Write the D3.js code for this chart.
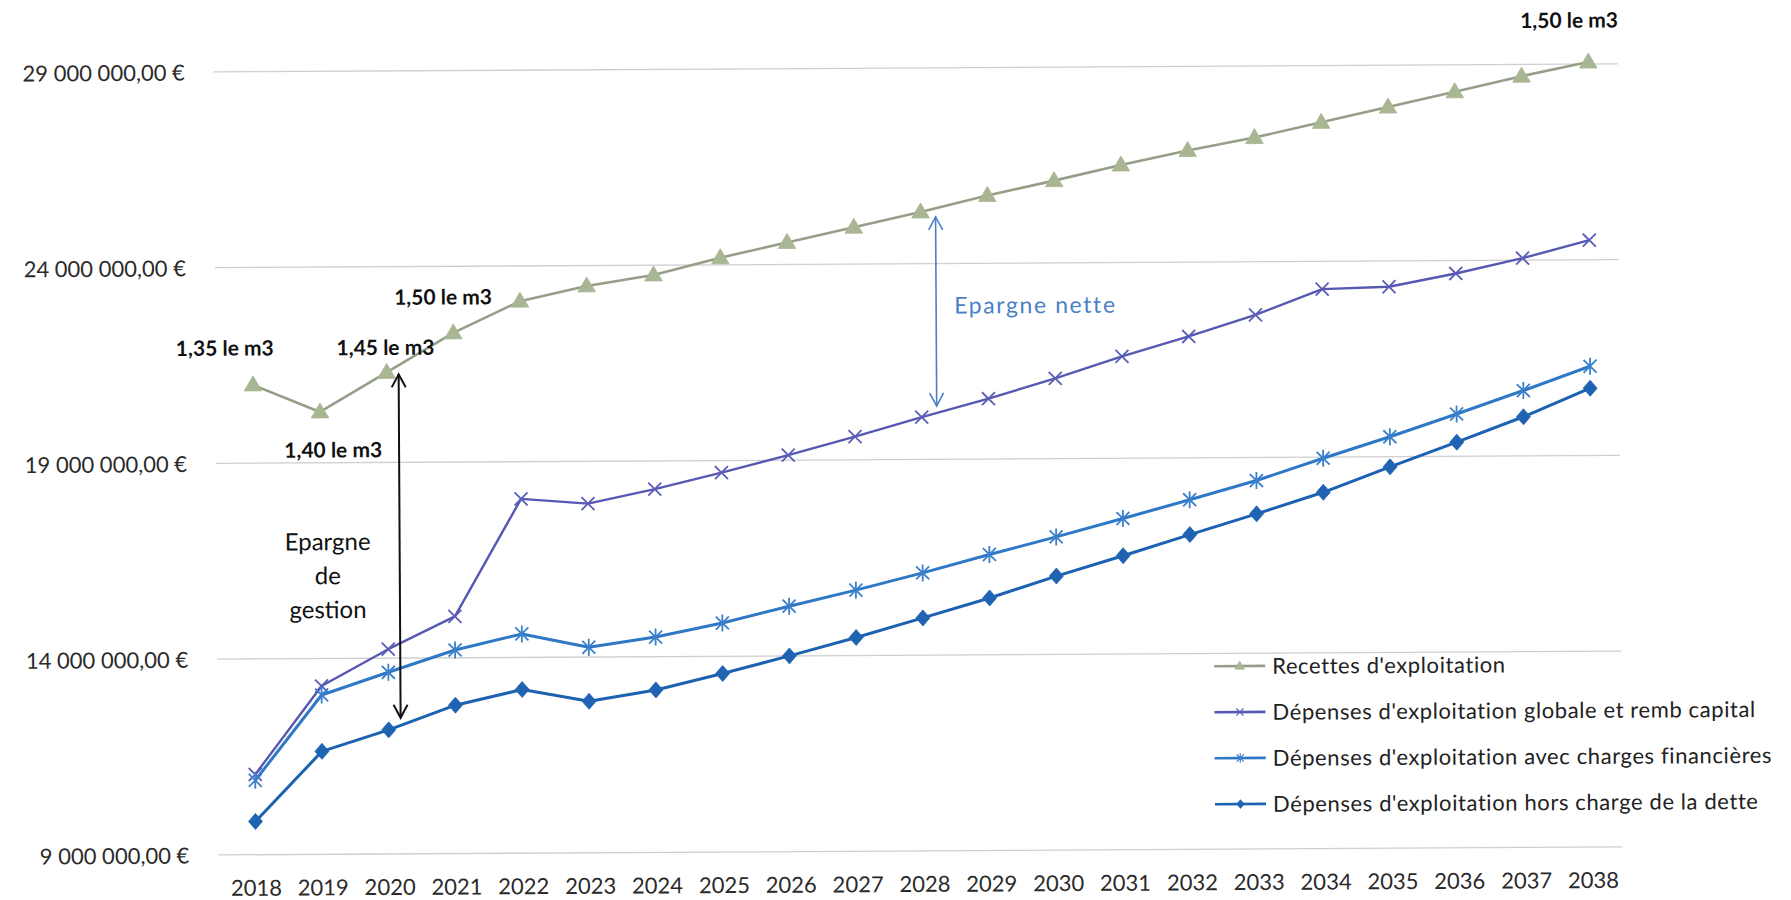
<!DOCTYPE html>
<html>
<head>
<meta charset="utf-8">
<title>Recettes et dépenses d'exploitation 2018-2038</title>
<script src="https://cdn.jsdelivr.net/npm/d3@7"></script>
<style>
  html, body { margin: 0; padding: 0; background: #ffffff; }
  svg { display: block; font-family: Lato, "Open Sans", "Liberation Sans", sans-serif; }
</style>
</head>
<body>
<svg id="chart" width="1791" height="900"></svg>
<script>
// ---- Data -----------------------------------------------------------------
const years = [2018, 2019, 2020, 2021, 2022, 2023, 2024, 2025, 2026, 2027, 2028,
               2029, 2030, 2031, 2032, 2033, 2034, 2035, 2036, 2037, 2038];

const recettes = [21000000, 20300000, 21300000, 22300000, 23100000, 23480000, 23750000,
                  24180000, 24560000, 24940000, 25320000, 25730000, 26100000, 26490000,
                  26850000, 27170000, 27550000, 27930000, 28310000, 28700000, 29050000];

const depGlobale = [11050000, 13300000, 14230000, 15060000, 18050000, 17920000, 18280000,
                    18690000, 19130000, 19590000, 20080000, 20540000, 21050000, 21600000,
                    22100000, 22640000, 23290000, 23340000, 23670000, 24050000, 24500000];

const depFinancieres = [10900000, 13070000, 13640000, 14200000, 14600000, 14250000, 14500000,
                        14850000, 15270000, 15670000, 16100000, 16560000, 17000000, 17460000,
                        17930000, 18410000, 18970000, 19510000, 20080000, 20670000, 21280000];

const depHorsDette = [9850000, 11630000, 12170000, 12790000, 13180000, 12870000, 13150000,
                      13560000, 14000000, 14460000, 14950000, 15450000, 16000000, 16510000,
                      17040000, 17560000, 18100000, 18740000, 19360000, 20000000, 20720000];

const seriesNames = [
  "Recettes d'exploitation",
  "Dépenses d'exploitation globale et remb capital",
  "Dépenses d'exploitation avec charges financières",
  "Dépenses d'exploitation hors charge de la dette"
];

const yTicks = [9000000, 14000000, 19000000, 24000000, 29000000];

// water price per m3 written next to the revenue points
const priceYears = [2018, 2019, 2020, 2021, 2038];
const priceTexts = ["1,35 le m3", "1,40 le m3", "1,45 le m3", "1,50 le m3", "1,50 le m3"];

const labelEpargneNette = "Epargne nette";
const labelEpargneGestion = ["Epargne", "de", "gestion"];

// ---- Layout ---------------------------------------------------------------
const plot = { left: 220, right: 1624, top: 68, bottom: 851 };

const svg = d3.select("#chart");
// the whole sheet sits very slightly rotated
const root = svg.append("g").attr("transform", "rotate(-0.33, 900, 460)");

const x = d3.scalePoint().domain(years).range([plot.left, plot.right]).padding(0.5);
const y = d3.scaleLinear().domain([9000000, 29000000]).range([plot.bottom, plot.top]);

const fr = d3.formatLocale({ decimal: ",", thousands: " ", grouping: [3], currency: ["", " €"] });
const euro = fr.format("$,.2f");

// ---- Grid + axes ----------------------------------------------------------
const gridG = root.append("g");
gridG.selectAll("line").data(yTicks).join("line")
  .attr("x1", plot.left - 4).attr("x2", plot.right - 4)
  .attr("y1", d => y(d)).attr("y2", d => y(d))
  .attr("stroke", "#cfcfcf").attr("stroke-width", 1.3);

const yAxis = root.append("g").attr("transform", `translate(${plot.left - 33},0)`)
  .call(d3.axisLeft(y).tickValues(yTicks).tickFormat(euro).tickSize(0).tickPadding(0));
yAxis.select(".domain").remove();
yAxis.selectAll("text").attr("font-size", 22).attr("fill", "#2a2a2a").attr("dy", "0.36em")
  .attr("font-family", "Lato, 'Open Sans', sans-serif");

const xAxis = root.append("g").attr("transform", `translate(0,${plot.bottom})`)
  .call(d3.axisBottom(x).tickSize(0).tickPadding(0).tickFormat(d3.format("d")));
xAxis.select(".domain").remove();
xAxis.selectAll("text").attr("font-size", 22).attr("fill", "#2a2a2a").attr("dy", 0).attr("y", 41)
  .attr("font-family", "Lato, 'Open Sans', sans-serif");

// ---- Series ---------------------------------------------------------------
const series = [
  { name: seriesNames[0], values: recettes,       color: "#959f88", mColor: "#a9b693", marker: "triangle", width: 2.6 },
  { name: seriesNames[1], values: depGlobale,     color: "#5658b2", mColor: "#5a5db6", marker: "cross",    width: 2.4 },
  { name: seriesNames[2], values: depFinancieres, color: "#2f78c6", mColor: "#3a80cc", marker: "star",     width: 3.0 },
  { name: seriesNames[3], values: depHorsDette,   color: "#1d62b0", mColor: "#1f63b2", marker: "diamond",  width: 3.0 }
];

function markerPath(type, k) {
  switch (type) {
    case "triangle": return `M0,${-9*k}L${8.8*k},${6*k}L${-8.8*k},${6*k}Z`;
    case "diamond":  return `M0,${-8*k}L${7*k},0L0,${8*k}L${-7*k},0Z`;
    case "cross":    return `M${-6.5*k},${-6.5*k}L${6.5*k},${6.5*k}M${-6.5*k},${6.5*k}L${6.5*k},${-6.5*k}`;
    case "star":     return `M${-6.5*k},${-6.5*k}L${6.5*k},${6.5*k}M${-6.5*k},${6.5*k}L${6.5*k},${-6.5*k}M0,${-8.5*k}L0,${8.5*k}`;
  }
}
const filled = t => t === "triangle" || t === "diamond";

const line = d3.line().x((d, i) => x(years[i])).y(d => y(d));

series.forEach(s => {
  const g = root.append("g");
  g.append("path").datum(s.values).attr("d", line)
    .attr("fill", "none").attr("stroke", s.color).attr("stroke-width", s.width)
    .attr("stroke-linejoin", "round");
  g.selectAll("path.m").data(s.values).join("path").attr("class", "m")
    .attr("transform", (d, i) => `translate(${x(years[i])},${y(d)})`)
    .attr("d", markerPath(s.marker, 1))
    .attr("fill", filled(s.marker) ? s.mColor : "none")
    .attr("stroke", s.mColor)
    .attr("stroke-width", filled(s.marker) ? 0.8 : 1.8);
});

// ---- Price labels ---------------------------------------------------------
const priceOffsets = { 2018: [-28, -37], 2019: [13, 38], 2020: [-1, -25], 2021: [-10, -36], 2038: [-19, -42] };
root.append("g").selectAll("text").data(priceYears).join("text")
  .attr("x", d => x(d) + priceOffsets[d][0])
  .attr("y", d => y(recettes[years.indexOf(d)]) + priceOffsets[d][1])
  .attr("dy", "0.36em")
  .attr("text-anchor", "middle")
  .attr("font-size", 21).attr("font-weight", "bold").attr("fill", "#111")
  .text((d, i) => priceTexts[i]);

// ---- Double arrows --------------------------------------------------------
function doubleArrow(g, ax, y1, y2, color, w, hw, hl) {
  g.append("line").attr("x1", ax).attr("x2", ax).attr("y1", y1).attr("y2", y2)
    .attr("stroke", color).attr("stroke-width", w);
  g.append("path")
    .attr("d", `M${ax - hw},${y1 + hl}L${ax},${y1}L${ax + hw},${y1 + hl}M${ax - hw},${y2 - hl}L${ax},${y2}L${ax + hw},${y2 - hl}`)
    .attr("fill", "none").attr("stroke", color).attr("stroke-width", w).attr("stroke-linejoin", "miter");
}

const annG = root.append("g");
const iGestion = years.indexOf(2020);
const gx = x(2020) + 12;
doubleArrow(annG, gx, y(recettes[iGestion]) + 2, y(depHorsDette[iGestion]) - 12, "#111", 2, 7, 13);
annG.append("text").attr("x", gx - 72).attr("text-anchor", "middle")
  .attr("font-size", 24).attr("fill", "#111")
  .selectAll("tspan").data(labelEpargneGestion).join("tspan")
  .attr("x", gx - 72).attr("y", (d, i) => y(depHorsDette[iGestion]) - 180 + i * 34)
  .text(d => d);

const iNette = years.indexOf(2028);
const nx = x(2028) + 15;
doubleArrow(annG, nx, y(recettes[iNette]) + 5, y(depGlobale[iNette]) - 11, "#4b7fc6", 1.6, 7, 13);
annG.append("text").attr("x", nx + 18).attr("y", (y(recettes[iNette]) + y(depGlobale[iNette])) / 2 - 9)
  .attr("dy", "0.36em").attr("font-size", 23).attr("fill", "#4b7fc6").attr("letter-spacing", 1.6)
  .text(labelEpargneNette);

// ---- Legend ---------------------------------------------------------------
const legend = root.append("g").attr("transform", "translate(1213,668)");
const li = legend.selectAll("g").data(series).join("g")
  .attr("transform", (d, i) => `translate(0,${i * 46})`);
li.append("line").attr("x1", 0).attr("x2", 51).attr("y1", 0).attr("y2", 0)
  .attr("stroke", d => d.color).attr("stroke-width", 2.6);
li.append("path").attr("transform", "translate(25.5,0)")
  .attr("d", d => markerPath(d.marker, 0.55))
  .attr("fill", d => filled(d.marker) ? d.mColor : "none")
  .attr("stroke", d => d.mColor).attr("stroke-width", d => filled(d.marker) ? 0.6 : 1.2);
li.append("text").attr("x", 58).attr("y", 0).attr("dy", "0.36em")
  .attr("font-size", 22).attr("letter-spacing", 0.6).attr("fill", "#222")
  .text(d => d.name);
</script>
</body>
</html>
